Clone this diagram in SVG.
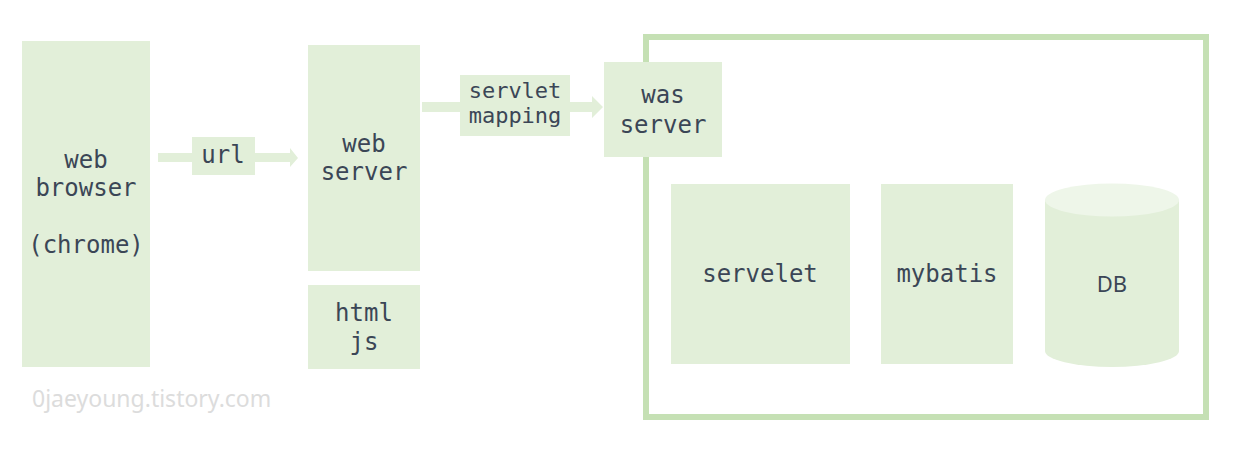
<svg xmlns="http://www.w3.org/2000/svg" width="1235" height="454" viewBox="0 0 1235 454">
<style>
.box{fill:#e2efd9}
.t{font-family:"DejaVu Sans Mono","Liberation Mono",monospace;font-size:24px;fill:#3b4656;text-anchor:middle}
.s{font-size:22px}
.sh{fill:#e2efd9}
</style>
<rect width="1235" height="454" fill="#ffffff"/>
<g id="was-container"><rect x="646" y="37" width="560" height="380" fill="none" stroke="#c5e0b4" stroke-width="6"/></g>
<g id="connectors">
<polygon class="sh" points="158,153 290,153 290,148 298,158 290,167 290,162 158,162"/>
<polygon class="sh" points="422,102 592,102 592,96 603,107 592,118 592,112 422,112"/>
</g>
<g id="browser"><rect class="box" x="22" y="41" width="128" height="326"/>
<text class="t" x="86" y="168">web</text><text class="t" x="86" y="196">browser</text><text class="t" x="86" y="253">(chrome)</text></g>
<g id="url-label"><rect class="box" x="192" y="137" width="63" height="38"/><text class="t" x="223" y="163">url</text></g>
<g id="webserver"><rect class="box" x="308" y="45" width="112" height="226"/>
<text class="t" x="364" y="152">web</text><text class="t" x="364" y="180">server</text></g>
<g id="htmljs"><rect class="box" x="308" y="285" width="112" height="84"/>
<text class="t" x="364" y="321">html</text><text class="t" x="364" y="350">js</text></g>
<g id="mapping-label"><rect class="box" x="460" y="75" width="110" height="61"/>
<text class="t s" x="515" y="98">servlet</text><text class="t s" x="515" y="123">mapping</text></g>
<g id="wasserver"><rect class="box" x="604" y="62" width="118" height="95"/>
<text class="t" x="663" y="103">was</text><text class="t" x="663" y="133">server</text></g>
<g id="servelet"><rect class="box" x="671" y="184" width="179" height="180"/><text class="t" x="760" y="282">servelet</text></g>
<g id="mybatis"><rect class="box" x="881" y="184" width="132" height="180"/><text class="t" x="947" y="282">mybatis</text></g>
<g id="db">
<path d="M1045,200 L1045,351 A67,16 0 0 0 1179,351 L1179,200 Z" fill="#e2efd9"/>
<ellipse cx="1112" cy="200" rx="67" ry="16.5" fill="#eef6e9"/>
<text x="1112" y="292" font-family="'Noto Sans','Open Sans',sans-serif" font-size="22" fill="#3b4656" text-anchor="middle">DB</text>
</g>
<text x="32" y="407" font-family="'Noto Sans','Open Sans',sans-serif" font-size="23" fill="#dcdcdc">0jaeyoung.tistory.com</text>
</svg>
